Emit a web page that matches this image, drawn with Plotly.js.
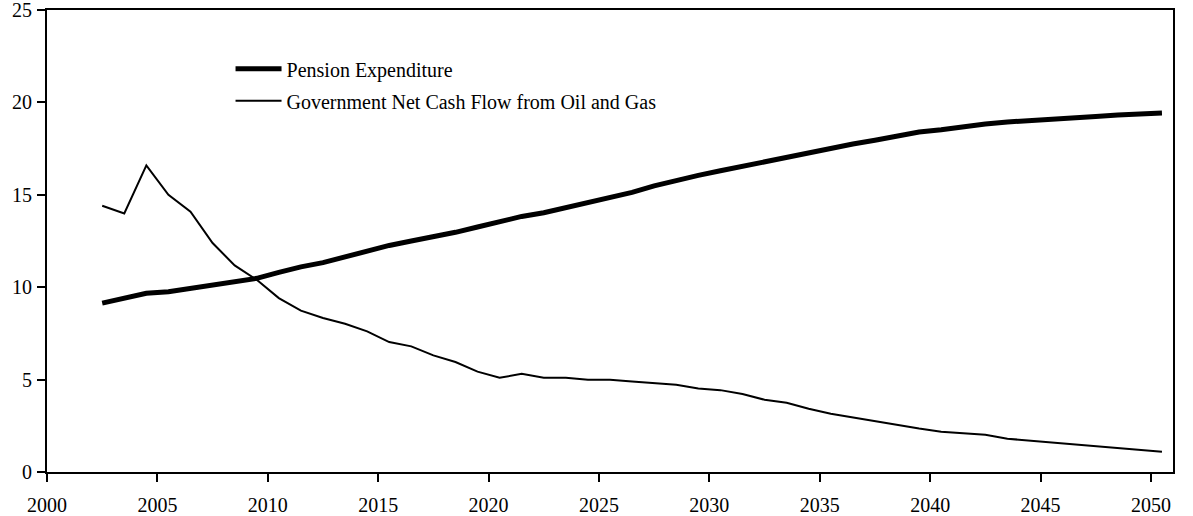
<!DOCTYPE html>
<html>
<head>
<meta charset="utf-8">
<script src="https://cdn.plot.ly/plotly-3.0.1.min.js"></script>
<style>html,body{margin:0;padding:0;background:#fff;}#chart{width:1193px;height:516px;}</style>
</head>
<body>
<div id="chart"></div>
<script>
// Fiscal years (plotted at mid-year position)
const years = [2002,2003,2004,2005,2006,2007,2008,2009,2010,2011,2012,2013,2014,2015,2016,2017,2018,2019,2020,2021,2022,2023,2024,2025,2026,2027,2028,2029,2030,2031,2032,2033,2034,2035,2036,2037,2038,2039,2040,2041,2042,2043,2044,2045,2046,2047,2048,2049,2050];

const pensionExpenditure = [9.14,9.38,9.67,9.76,9.94,10.08,10.28,10.48,10.8,11.1,11.33,11.65,11.94,12.26,12.5,12.73,12.97,13.26,13.56,13.83,14.03,14.3,14.57,14.88,15.13,15.48,15.78,16.05,16.3,16.55,16.8,17.05,17.28,17.52,17.75,17.95,18.2,18.4,18.52,18.7,18.83,18.94,19.03,19.1,19.17,19.24,19.32,19.37,19.43];

const oilGasCashFlow = [14.41,13.99,16.59,15.0,14.09,12.39,11.18,10.4,9.41,8.73,8.33,8.02,7.61,7.03,6.8,6.31,5.95,5.43,5.1,5.31,5.1,5.1,4.99,4.99,4.9,4.81,4.72,4.52,4.43,4.22,3.91,3.75,3.42,3.15,2.95,2.75,2.53,2.35,2.18,2.11,2.02,1.8,1.7,1.61,1.52,1.42,1.31,1.21,1.1];

const seriesNames = ["Pension Expenditure", "Government Net Cash Flow from Oil and Gas"];
const xTickVals = [2000,2005,2010,2015,2020,2025,2030,2035,2040,2045,2050];
const yTickVals = [0,5,10,15,20,25];

const xPos = years.map(y => y + 0.5);

const traces = [
  {x: xPos, y: pensionExpenditure, name: seriesNames[0], legendgroup: 'a', type: 'scatter', mode: 'lines',
   line: {color: '#000', width: 5}},
  {x: xPos, y: oilGasCashFlow, name: seriesNames[1], legendgroup: 'b', type: 'scatter', mode: 'lines',
   line: {color: '#000', width: 2}}
];

const axisFont = {family: '"Liberation Serif", "Times New Roman", serif', size: 20, color: '#000'};

const layout = {
  width: 1193, height: 516,
  margin: {l: 47, r: 20, t: 10, b: 44, pad: 0},
  paper_bgcolor: '#fff', plot_bgcolor: '#fff',
  font: axisFont,
  showlegend: true,
  legend: {x: 0.163, y: 0.915, xanchor: 'left', yanchor: 'top', bgcolor: 'rgba(0,0,0,0)',
           font: axisFont, itemwidth: 46, traceorder: 'grouped', tracegroupgap: 3},
  xaxis: {range: [2000, 2051], tickvals: xTickVals, ticktext: xTickVals.map(String),
          ticks: 'outside', ticklen: 8, tickwidth: 2, tickcolor: '#000',
          showline: true, linewidth: 2, linecolor: '#000', mirror: true,
          showgrid: false, zeroline: false, tickfont: axisFont, ticklabelstandoff: 6,
          ticklabeloverflow: 'allow'},
  yaxis: {range: [0, 25.001], tickvals: yTickVals, ticktext: yTickVals.map(String),
          ticks: 'outside', ticklen: 8, tickwidth: 2, tickcolor: '#000',
          showline: true, linewidth: 2, linecolor: '#000', mirror: true,
          showgrid: false, zeroline: false, tickfont: axisFont, ticklabelstandoff: 1,
          ticklabeloverflow: 'allow'}
};

Plotly.newPlot('chart', traces, layout, {staticPlot: true, displayModeBar: false});
</script>
</body>
</html>
